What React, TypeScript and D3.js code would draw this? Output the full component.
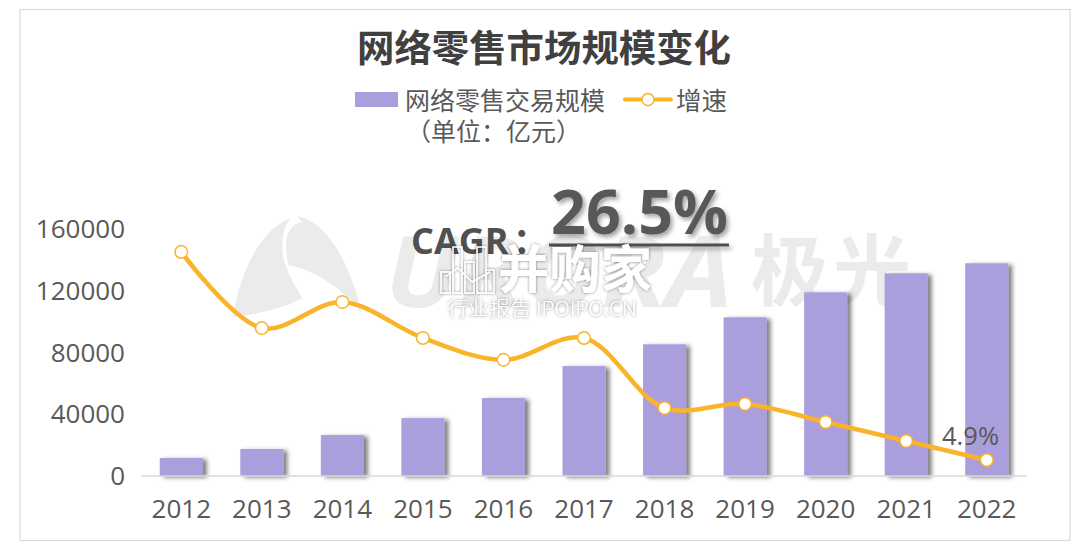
import { scaleBand, scaleLinear, line, curveCatmullRom } from "d3";

const years = ["2012", "2013", "2014", "2015", "2016", "2017", "2018", "2019", "2020", "2021", "2022"];
const scaleValues = [11700, 17500, 26500, 37500, 50500, 71200, 85300, 102800, 119000, 131300, 137800];
const growthValues = [68.5, 45.2, 53.2, 42.2, 35.5, 42.2, 20.8, 22, 16.5, 10.7, 4.9];
const yTicks = [0, 40000, 80000, 120000, 160000];

const WIDTH = 1088;
const HEIGHT = 557;
const FONT = "'Noto Sans CJK SC', 'Open Sans', sans-serif";
const LATIN = "'Open Sans', 'Noto Sans CJK SC', sans-serif";
const PURPLE = "#aa9fdc";
const ORANGE = "#f9b42a";

const x = scaleBand<string>().domain(years).range([141, 1027]).paddingInner(0.466).paddingOuter(0.233);
const y = scaleLinear().domain([0, 160000]).range([476, 229]);
const yGrowth = scaleLinear().domain([0, 75.5]).range([476, 229]);

export default function App() {
  const cx = (year: string) => (x(year) as number) + x.bandwidth() / 2;
  const growthLine = line<number>()
    .x((_, i) => cx(years[i]))
    .y((d) => yGrowth(d))
    .curve(curveCatmullRom.alpha(0.5));

  return (
    <svg
      width={WIDTH}
      height={HEIGHT}
      style={{ position: "absolute", left: 0, top: 0, background: "#fff" }}
    >
      <defs>
        <filter id="barShadow" x="-20%" y="-10%" width="150%" height="120%">
          <feDropShadow dx="4" dy="1.5" stdDeviation="2" floodColor="#000" floodOpacity="0.5" />
        </filter>
        <filter id="textShadow" x="-10%" y="-10%" width="125%" height="130%">
          <feDropShadow dx="2.5" dy="3" stdDeviation="2.2" floodColor="#000" floodOpacity="0.35" />
        </filter>
        <filter id="markShadow" x="-10%" y="-10%" width="120%" height="130%">
          <feDropShadow dx="0" dy="0" stdDeviation="1.4" floodColor="#000" floodOpacity="0.5" />
        </filter>
      </defs>

      <rect x={20} y={9.5} width={1050} height={531} fill="#fff" stroke="#d9d9d9" strokeWidth={1.2} />

      {/* background logo */}
      <g fill="#ebebeb">
        <path d="M233 317 C240 270 262 225 297 216 C285 218 281 235 283 255 C285 270 295 285 302 298 C285 308 255 315 233 317 Z" />
        <path d="M297 216 C330 222 352 270 362 314 C345 290 315 270 288 265 L286 250 C285 235 290 224 302 222 Z" />
        <text x={385} y={307} fontFamily={LATIN} fontSize={98} fontWeight={700} fontStyle="italic" textLength={348} lengthAdjust="spacingAndGlyphs">
          URORA
        </text>
        <text x={751} y={300} fontFamily={FONT} fontSize={78} fontWeight={700} textLength={160} lengthAdjust="spacing">
          极光
        </text>
      </g>

      <text x={544} y={62} textAnchor="middle" fontFamily={FONT} fontSize={37.4} fontWeight={700} fill="#404040">
        网络零售市场规模变化
      </text>

      {/* legend */}
      <rect x={355} y={92} width={43} height={15} fill={PURPLE} />
      <text x={405} y={110} fontFamily={FONT} fontSize={25} fill="#595959">
        网络零售交易规模
      </text>
      <text x={406} y={141} fontFamily={FONT} fontSize={25} fill="#595959">
        （单位：亿元）
      </text>
      <line x1={625} x2={671} y1={99.5} y2={99.5} stroke={ORANGE} strokeWidth={4} strokeLinecap="round" />
      <circle cx={648} cy={99.5} r={6} fill="#fff" stroke={ORANGE} strokeWidth={1.5} />
      <text x={676} y={110} fontFamily={FONT} fontSize={25.5} fill="#595959">
        增速
      </text>

      {/* y axis labels */}
      {yTicks.map((t) => (
        <text key={t} x={125} y={y(t) + 9} textAnchor="end" fontFamily={LATIN} fontSize={26} fill="#595959">
          {t}
        </text>
      ))}

      {/* bars */}
      <g filter="url(#barShadow)">
        {years.map((year, i) => (
          <rect
            key={year}
            x={x(year)}
            y={y(scaleValues[i])}
            width={x.bandwidth()}
            height={y(0) - y(scaleValues[i])}
            fill={PURPLE}
          />
        ))}
      </g>

      <line x1={141} x2={1027} y1={y(0)} y2={y(0)} stroke="#d9d9d9" strokeWidth={1.5} />

      {years.map((year) => (
        <text key={year} x={cx(year)} y={518} textAnchor="middle" fontFamily={LATIN} fontSize={26} fill="#595959">
          {year}
        </text>
      ))}

      {/* growth line */}
      <path d={growthLine(growthValues) ?? ""} fill="none" stroke={ORANGE} strokeWidth={4.5} strokeLinecap="round" />
      {years.map((year, i) => (
        <circle key={year} cx={cx(year)} cy={yGrowth(growthValues[i])} r={6.3} fill="#fff" stroke={ORANGE} strokeWidth={1.5} />
      ))}
      <text x={970.5} y={445} textAnchor="middle" fontFamily={LATIN} fontSize={25.5} fill="#595959">
        4.9%
      </text>

      {/* CAGR callout */}
      <g filter="url(#textShadow)">
        <text x={551} y={234} fontFamily={LATIN} fontSize={61} fontWeight={700} fill="#595959">
          26.5%
        </text>
        <line x1={549} x2={729} y1={245} y2={245} stroke="#505050" strokeWidth={3} />
      </g>
      <text x={411} y={254} fontFamily={LATIN} fontSize={36} fontWeight={700} fill="#505050">
        CAGR<tspan dx={4}>：</tspan>
      </text>

      {/* watermark */}
      <g filter="url(#markShadow)" fill="#fff">
        <g fill="none" stroke="#fff" strokeWidth={1.5}>
          <rect x={441} y={272} width={9} height={21} />
          <rect x={453} y={247} width={9} height={46} />
          <rect x={465} y={262} width={9} height={31} />
          <rect x={477} y={247} width={9} height={46} />
          <rect x={486} y={270} width={8} height={23} />
          <path d="M445 277 L458 268 L472 282 L490 272" />
        </g>
        <text x={498} y={288} fontFamily={FONT} fontSize={51} fontWeight={700} textLength={154} lengthAdjust="spacingAndGlyphs">
          并购家
        </text>
        <text x={447} y={316} fontFamily={FONT} fontSize={20} fontWeight={300} textLength={190} lengthAdjust="spacingAndGlyphs">
          行业报告 IPOIPO.CN
        </text>
      </g>
    </svg>
  );
}
